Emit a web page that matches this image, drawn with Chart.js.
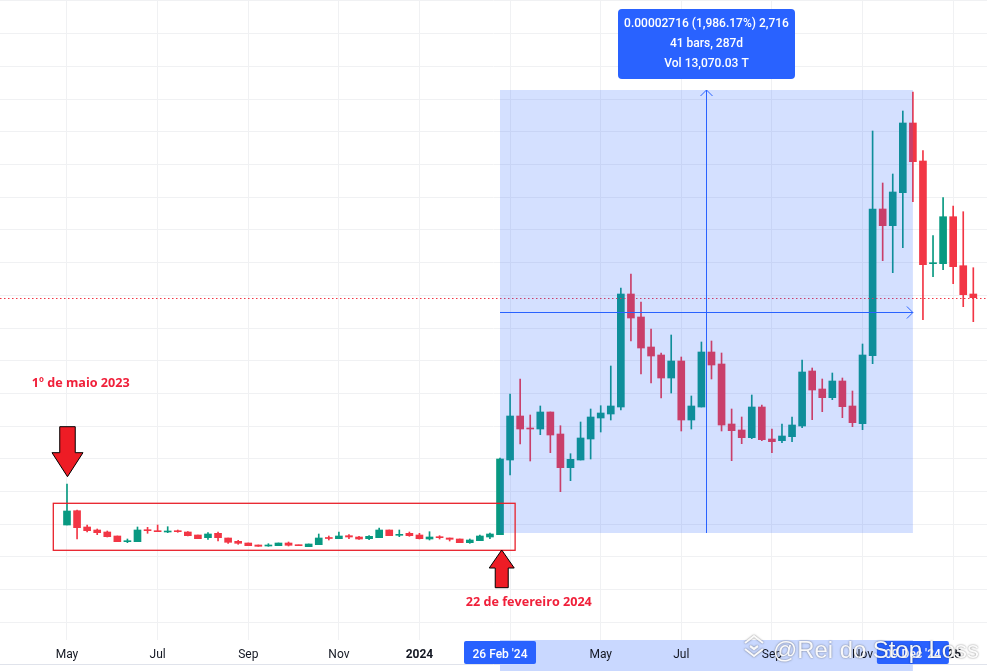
<!DOCTYPE html>
<html>
<head>
<meta charset="utf-8">
<script src="https://cdn.jsdelivr.net/npm/chart.js@4.4.1/dist/chart.umd.min.js"></script>
<style>
  html, body { margin: 0; padding: 0; background: #fff; }
  #wrap { width: 987px; height: 671px; position: relative; }
</style>
</head>
<body>
<div id="wrap"><canvas id="chart"></canvas></div>
<script>
// weekly candles, first one = week of 1 May 2023 (index 0)
const open = [
  11.5, 12.93, 11.3, 11.0, 10.8, 10.4, 9.83, 9.83, 11.0, 10.9,
  10.8, 10.93, 10.8, 10.5, 10.23, 10.67, 10.2, 9.87, 9.7, 9.5,
  9.4, 9.43, 9.7, 9.5, 9.33, 9.53, 10.23, 10.13, 10.43, 10.3,
  10.13, 10.23, 11.0, 10.47, 10.67, 10.5, 10.1, 10.33, 10.2, 10.1,
  9.73, 9.93, 10.3, 10.53, 18.0, 22.4, 21.17, 21.1, 22.8, 20.6,
  17.23, 18.0, 20.1, 22.2, 22.6, 23.3, 34.6, 32.3, 29.3, 28.5,
  26.2, 27.9, 22.0, 23.3, 28.8, 27.6, 21.6, 21.0, 20.23, 23.3,
  20.1, 19.93, 20.33, 21.4, 26.9, 25.1, 24.23, 25.9, 23.4, 21.63,
  28.43, 43.1, 41.43, 44.73, 51.7, 47.9, 37.63, 37.63, 42.33, 37.43, 34.6
];
const high = [
  15.6, 13.0, 11.5, 11.1, 10.9, 10.4, 10.1, 11.3, 11.27, 11.5,
  11.33, 11.0, 10.85, 10.5, 10.73, 10.8, 10.2, 9.97, 9.7, 9.5,
  9.63, 9.7, 9.8, 9.5, 9.6, 10.6, 10.4, 10.8, 10.53, 10.37,
  10.43, 11.2, 11.0, 11.0, 10.8, 10.67, 10.83, 10.43, 10.2, 10.1,
  10.1, 10.5, 10.7, 18.2, 24.6, 26.1, 22.5, 23.4, 22.8, 21.43,
  18.63, 21.8, 23.1, 23.43, 27.4, 35.2, 36.6, 33.8, 31.1, 28.7,
  30.5, 28.3, 24.4, 29.8, 29.9, 28.7, 23.1, 22.3, 24.5, 23.5,
  21.1, 21.6, 22.3, 28.0, 27.2, 26.1, 26.7, 26.2, 24.9, 29.6,
  50.9, 45.7, 46.6, 52.9, 54.8, 48.93, 40.43, 44.23, 43.4, 42.83, 37.23
];
const low = [
  11.5, 10.1, 10.8, 10.53, 10.3, 9.83, 9.73, 9.83, 10.67, 10.83,
  10.73, 10.77, 10.4, 10.13, 10.07, 9.9, 9.67, 9.57, 9.43, 9.37,
  9.37, 9.43, 9.4, 9.43, 9.33, 9.53, 10.0, 10.13, 10.13, 10.07,
  10.03, 10.23, 10.43, 10.33, 10.37, 10.1, 10.0, 10.1, 9.9, 9.73,
  9.67, 9.93, 10.13, 10.53, 16.5, 19.6, 17.9, 20.53, 18.73, 14.83,
  15.93, 18.0, 18.1, 20.8, 22.0, 23.0, 29.9, 26.6, 25.7, 24.2,
  24.7, 20.9, 21.1, 23.3, 26.1, 20.9, 17.93, 19.63, 20.13, 19.93,
  18.73, 19.73, 19.83, 21.23, 22.03, 22.83, 24.03, 22.23, 21.33, 21.03,
  27.63, 37.93, 36.73, 39.23, 43.83, 32.03, 36.33, 37.03, 35.63, 33.33, 31.83
];
const close = [
  12.9, 11.23, 10.93, 10.73, 10.33, 9.83, 9.93, 11.0, 10.93, 10.83,
  10.9, 10.83, 10.43, 10.13, 10.6, 10.23, 9.77, 9.67, 9.43, 9.37,
  9.5, 9.7, 9.47, 9.43, 9.6, 10.2, 10.15, 10.4, 10.3, 10.1,
  10.37, 11.0, 10.43, 10.57, 10.43, 10.13, 10.3, 10.23, 10.07, 9.73,
  10.0, 10.4, 10.6, 18.1, 22.4, 21.1, 21.1, 22.8, 20.5, 17.23,
  18.07, 20.2, 22.3, 22.7, 23.4, 34.6, 32.2, 29.2, 28.4, 26.2,
  27.9, 22.0, 23.4, 28.8, 27.5, 21.5, 20.93, 20.23, 23.3, 20.03,
  19.83, 20.4, 21.5, 26.8, 25.0, 24.23, 25.9, 23.33, 21.73, 28.5,
  43.1, 41.43, 44.8, 51.7, 47.83, 37.53, 37.73, 42.33, 37.33, 34.53, 34.23
];

// time axis ticks (week index -> label)
const tickIdx = [0, 9, 18, 27, 35, 44, 53, 61, 70, 79, 88];
const tickText = ["May", "Jul", "Sep", "Nov", "2024", "Mar", "May", "Jul", "Sep", "Nov", "'25"];

// date/price range tool
const rangeFrom = 43;
const rangeTo = 84;
const rangeLow = 10.7;
const rangeHigh = 55.0;
const rangeFromText = "26 Feb '24";
const rangeToText = "09 Dec '24";
const rangeInfo = ["0.00002716 (1,986.17%) 2,716", "41 bars, 287d", "Vol 13,070.03 T"];

// hand drawn notes
const noteBox = { from: -1.36, to: 44.5, low: 8.97, high: 13.67 };
const noteStart = { text: "1º de maio 2023", x: -3.5, y: 25.67 };
const noteEnd = { text: "22 de fevereiro 2024", x: 39.6, y: 3.77 };
const arrowDown = { x: 0.05, top: 21.33, tip: 16.33 };
const arrowUp = { x: 43.17, tip: 9.0, bottom: 5.23 };

const GREEN = "#089981";
const RED = "#f23645";
const BLUE = "#2962ff";

const idx = open.map((_, i) => i);
const candleColor = idx.map(i => close[i] >= open[i] ? GREEN : RED);

function fitFont(ctx, text, weight, family, width) {
  ctx.font = weight + " 20px " + family;
  const size = 20 * width / ctx.measureText(text).width;
  return weight + " " + size.toFixed(2) + "px " + family;
}

function blockArrow(ctx, x, yBase, yTip, shaftW, headW, headL) {
  const dir = yTip > yBase ? 1 : -1;
  const yNeck = yTip - dir * headL;
  ctx.beginPath();
  ctx.moveTo(x - shaftW / 2, yBase);
  ctx.lineTo(x + shaftW / 2, yBase);
  ctx.lineTo(x + shaftW / 2, yNeck);
  ctx.lineTo(x + headW / 2, yNeck);
  ctx.lineTo(x, yTip);
  ctx.lineTo(x - headW / 2, yNeck);
  ctx.lineTo(x - shaftW / 2, yNeck);
  ctx.closePath();
  ctx.fillStyle = "#ee1c25";
  ctx.fill();
  ctx.strokeStyle = "#000";
  ctx.lineWidth = 1;
  ctx.stroke();
}

const drawingsPlugin = {
  id: "drawings",
  afterDatasetsDraw(chart) {
    const ctx = chart.ctx;
    const xs = chart.scales.x;
    const ys = chart.scales.y;
    const area = chart.chartArea;

    ctx.save();

    // last price line
    const py = Math.round(ys.getPixelForValue(close[close.length - 1])) + 0.5;
    ctx.strokeStyle = RED;
    ctx.lineWidth = 1;
    ctx.setLineDash([1.5, 2.5]);
    ctx.beginPath();
    ctx.moveTo(area.left, py);
    ctx.lineTo(area.right, py);
    ctx.stroke();
    ctx.setLineDash([]);

    // range shading
    const x1 = xs.getPixelForValue(rangeFrom);
    const x2 = xs.getPixelForValue(rangeTo);
    const y1 = ys.getPixelForValue(rangeHigh);
    const y2 = ys.getPixelForValue(rangeLow);
    ctx.fillStyle = "rgba(41, 98, 255, 0.2)";
    ctx.fillRect(x1, y1, x2 - x1, y2 - y1);

    // range arrows
    const xm = Math.round((x1 + x2) / 2) + 0.5;
    const ym = Math.round((y1 + y2) / 2) + 0.5;
    ctx.strokeStyle = BLUE;
    ctx.lineWidth = 1;
    ctx.beginPath();
    ctx.moveTo(x1, ym);
    ctx.lineTo(x2, ym);
    ctx.moveTo(x2 - 6, ym - 6);
    ctx.lineTo(x2, ym);
    ctx.lineTo(x2 - 6, ym + 6);
    ctx.moveTo(xm, y2);
    ctx.lineTo(xm, y1);
    ctx.moveTo(xm - 6, y1 + 6);
    ctx.lineTo(xm, y1);
    ctx.lineTo(xm + 6, y1 + 6);
    ctx.stroke();

    // range info box
    const bw = 177, bh = 70;
    const bx = xm - bw / 2;
    const by = y1 - 81;
    ctx.fillStyle = BLUE;
    ctx.beginPath();
    ctx.roundRect(bx, by, bw, bh, 4);
    ctx.fill();
    ctx.fillStyle = "#fff";
    ctx.font = "500 12px Roboto";
    ctx.textAlign = "center";
    ctx.textBaseline = "middle";
    rangeInfo.forEach((t, k) => {
      ctx.fillText(t, xm, by + 15 + k * 20);
    });

    // red note box
    const nx1 = xs.getPixelForValue(noteBox.from);
    const nx2 = xs.getPixelForValue(noteBox.to);
    const ny1 = ys.getPixelForValue(noteBox.high);
    const ny2 = ys.getPixelForValue(noteBox.low);
    ctx.strokeStyle = "#e8202a";
    ctx.lineWidth = 1.3;
    ctx.strokeRect(nx1, ny1, nx2 - nx1, ny2 - ny1);

    // arrows
    blockArrow(ctx, xs.getPixelForValue(arrowDown.x), ys.getPixelForValue(arrowDown.top),
      ys.getPixelForValue(arrowDown.tip), 15.5, 31, 24);
    blockArrow(ctx, xs.getPixelForValue(arrowUp.x), ys.getPixelForValue(arrowUp.bottom),
      ys.getPixelForValue(arrowUp.tip), 13, 25, 18);

    // note texts
    ctx.fillStyle = "#f0203a";
    ctx.textAlign = "left";
    ctx.textBaseline = "middle";
    ctx.font = fitFont(ctx, noteStart.text, "bold", "'Open Sans'", 98);
    ctx.fillText(noteStart.text, xs.getPixelForValue(noteStart.x), ys.getPixelForValue(noteStart.y));
    ctx.font = fitFont(ctx, noteEnd.text, "bold", "'Open Sans'", 126);
    ctx.fillText(noteEnd.text, xs.getPixelForValue(noteEnd.x), ys.getPixelForValue(noteEnd.y));

    ctx.restore();
  },

  afterDraw(chart) {
    const ctx = chart.ctx;
    const xs = chart.scales.x;
    const area = chart.chartArea;
    const W = chart.width, H = chart.height;
    const axTop = area.bottom;
    const axMid = axTop + 15;

    ctx.save();

    // time axis
    ctx.strokeStyle = "#e0e3eb";
    ctx.lineWidth = 1;
    ctx.beginPath();
    ctx.moveTo(0, axTop + 24.5);
    ctx.lineTo(W, axTop + 24.5);
    ctx.stroke();

    const x1 = xs.getPixelForValue(rangeFrom);
    const x2 = xs.getPixelForValue(rangeTo);
    ctx.fillStyle = "#ffffff";
    ctx.fillRect(x1, axTop + 24, x2 - x1, H - axTop - 24);
    ctx.fillStyle = "rgba(41, 98, 255, 0.25)";
    ctx.fillRect(x1, axTop, x2 - x1, H - axTop);

    ctx.fillStyle = "#131722";
    ctx.textAlign = "center";
    ctx.textBaseline = "middle";
    tickIdx.forEach((v, k) => {
      const bold = /^\d{4}$|^'/.test(tickText[k]);
      ctx.font = (bold ? "bold " : "") + "12px Roboto";
      ctx.fillText(tickText[k], xs.getPixelForValue(v), axMid);
    });

    // range date labels
    [[rangeFrom, rangeFromText], [rangeTo, rangeToText]].forEach(([v, t]) => {
      const x = xs.getPixelForValue(v);
      ctx.fillStyle = BLUE;
      ctx.beginPath();
      ctx.roundRect(x - 36, axTop + 1, 72, 23, 2);
      ctx.fill();
      ctx.fillStyle = "#fff";
      ctx.font = "500 12px Roboto";
      ctx.fillText(t, x, axMid - 0.5);
    });

    // watermark
    ctx.shadowColor = "rgba(0, 0, 0, 0.55)";
    ctx.shadowBlur = 2;
    ctx.strokeStyle = "rgba(255, 255, 255, 0.95)";
    ctx.lineWidth = 2.2;
    ctx.lineJoin = "round";
    ctx.beginPath();
    ctx.moveTo(745, 643); ctx.lineTo(754, 636); ctx.lineTo(763, 643);
    ctx.moveTo(745, 649); ctx.lineTo(754, 656); ctx.lineTo(763, 649);
    ctx.moveTo(750, 646); ctx.lineTo(754, 649); ctx.lineTo(758, 646);
    ctx.stroke();
    ctx.fillStyle = "rgba(255, 255, 255, 0.95)";
    ctx.textAlign = "left";
    ctx.font = fitFont(ctx, "@Rei do Stop Loss", "normal", "'Liberation Sans'", 206);
    ctx.fillText("@Rei do Stop Loss", 773, 651);

    ctx.restore();
  }
};

new Chart(document.getElementById("chart"), {
  type: "bar",
  data: {
    datasets: [
      {
        label: "body",
        data: idx.map(i => ({ x: i, y: [open[i], close[i]] })),
        backgroundColor: candleColor,
        barThickness: 7,
        minBarLength: 1,
        grouped: false
      },
      {
        label: "wick",
        data: idx.map(i => ({ x: i, y: [low[i], high[i]] })),
        backgroundColor: candleColor,
        barThickness: 1,
        grouped: false
      }
    ]
  },
  options: {
    responsive: true,
    maintainAspectRatio: false,
    animation: false,
    layout: { padding: { left: 0, right: 0, top: 0, bottom: 31 } },
    plugins: {
      legend: { display: false },
      tooltip: { enabled: false }
    },
    scales: {
      x: {
        type: "linear",
        min: -6.653,
        max: 91.36,
        offset: false,
        afterBuildTicks: s => { s.ticks = tickIdx.map(v => ({ value: v })); },
        ticks: { display: false },
        grid: { color: "#f0f1f3", drawTicks: false, offset: false },
        border: { display: false }
      },
      y: {
        position: "right",
        min: 0,
        max: 64,
        afterBuildTicks: s => {
          const t = [];
          for (let v = 1.77; v < 64; v += 3.27) t.push({ value: v });
          s.ticks = t;
        },
        ticks: { display: false },
        grid: { color: "#f0f1f3", drawTicks: false },
        border: { display: false }
      }
    }
  },
  plugins: [drawingsPlugin]
});
</script>
</body>
</html>
